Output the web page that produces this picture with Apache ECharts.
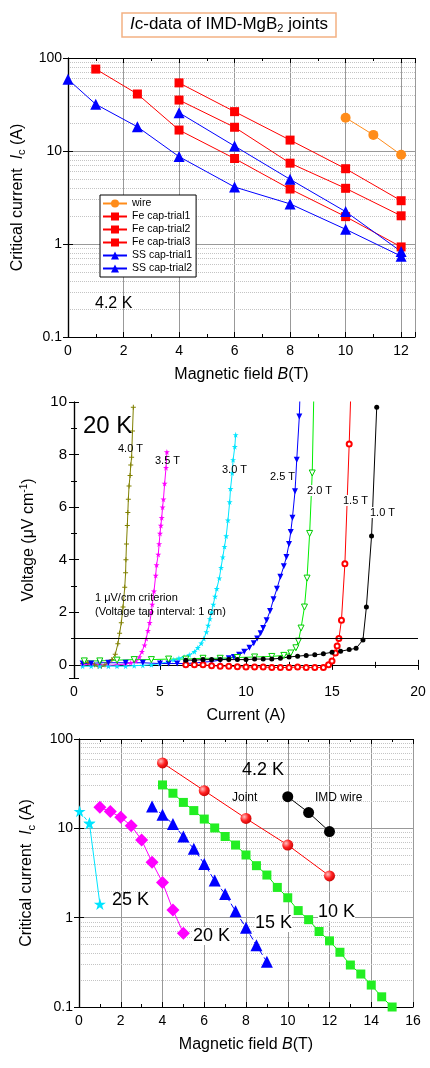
<!DOCTYPE html>
<html>
<head>
<meta charset="utf-8">
<script src="https://cdn.jsdelivr.net/npm/echarts@6/dist/echarts.min.js"></script>
<style>html,body{margin:0;padding:0;background:#fff}#main{width:430px;height:1068px}</style>
</head>
<body>
<div id="main"></div>
<script>
// ---- panel 1 : Ic at 4.2 K ----
var p1Wire = [[10, 22.8], [11, 14.9], [12, 9.1]];
var p1Fe1 = [[4, 54], [6, 26.5], [8, 13.1], [10, 6.45], [12, 2.92]];
var p1Fe2 = [[4, 35.3], [6, 18], [8, 7.4], [10, 3.97], [12, 2.01]];
var p1Fe3 = [[1, 76], [2.5, 41], [4, 16.8], [6, 8.3], [8, 3.9], [10, 1.97], [12, 0.93]];
var p1Ss1 = [[0, 59], [1, 31.8], [2.5, 18.2], [4, 8.7], [6, 4.1], [8, 2.7], [10, 1.44], [12, 0.74]];
var p1Ss2 = [[4, 25.8], [6, 11.3], [8, 4.96], [10, 2.23], [12, 0.83]];
var p1Names = ['wire', 'Fe cap-trial1', 'Fe cap-trial2', 'Fe cap-trial3', 'SS cap-trial1', 'SS cap-trial2'];

// ---- panel 2 : V-I curves at 20 K ----
var vi40 = [[0.5,0.05],[0.8,0.1],[1.0,0.05],[1.2,0.0],[1.4,-0.05],[1.6,-0.05],[1.8,0.0],[2.0,0.1],[2.2,0.2],[2.4,0.4],[2.55,0.8],[2.65,1.2],[2.75,1.6],[2.85,2.2],[2.95,2.95],[3.0,3.5],[3.02,4.0],[3.05,4.6],[3.1,5.3],[3.13,5.8],[3.16,6.3],[3.2,6.8],[3.26,7.2],[3.3,7.6],[3.35,7.9],[3.4,8.9],[3.45,9.8]];
var vi35 = [[0.5,0.0],[1,0.02],[1.5,0.0],[2,-0.02],[2.5,0.0],[3,0.03],[3.3,0.08],[3.6,0.15],[3.8,0.3],[3.95,0.5],[4.1,0.75],[4.2,1.0],[4.3,1.3],[4.4,1.6],[4.5,2.0],[4.55,2.3],[4.65,2.8],[4.75,3.4],[4.8,3.8],[4.9,4.2],[4.95,4.6],[5.0,5.0],[5.05,5.3],[5.1,5.6],[5.15,6.0],[5.2,6.3],[5.27,6.9],[5.35,7.5],[5.4,8.1]];
var vi30 = [[0.5,-0.05],[1,-0.05],[1.5,-0.05],[2,-0.05],[2.5,-0.05],[3,-0.05],[3.5,-0.03],[4,-0.02],[4.5,0.0],[5,0.05],[5.5,0.12],[5.8,0.19],[6.1,0.25],[6.4,0.3],[6.7,0.38],[7.0,0.5],[7.2,0.65],[7.4,0.82],[7.55,1.0],[7.7,1.25],[7.8,1.5],[7.9,1.75],[8.0,2.0],[8.1,2.3],[8.2,2.6],[8.3,2.9],[8.45,3.3],[8.55,3.7],[8.65,4.1],[8.75,4.5],[8.85,4.9],[8.95,5.5],[9.05,6.2],[9.1,6.7],[9.2,7.3],[9.25,7.8],[9.35,8.3],[9.4,8.75]];
var vi25 = [[0.5,0.05],[1,0.05],[1.5,0.08],[2,0.08],[3,0.08],[4,0.08],[5,0.05],[5.5,0.05],[6,0.05],[6.5,0.05],[7,0.07],[7.5,0.1],[8,0.13],[8.5,0.18],[9,0.25],[9.3,0.3],[9.6,0.38],[9.9,0.5],[10.2,0.65],[10.45,0.82],[10.65,1.0],[10.85,1.2],[11.0,1.4],[11.2,1.7],[11.4,2.05],[11.6,2.5],[11.8,2.9],[12.0,3.35],[12.2,3.75],[12.35,4.1],[12.5,4.6],[12.6,5.05],[12.7,5.6],[12.85,6.6],[12.95,7.8],[13.1,9.45],[13.15,10.5]];
var vi20 = [[0.6,0.15],[1.5,0.15],[2.5,0.18],[3.5,0.2],[4.5,0.2],[5.5,0.22],[6.5,0.22],[7.5,0.25],[8.5,0.25],[9.5,0.28],[10.5,0.3],[11.5,0.32],[12.2,0.36],[12.6,0.45],[12.9,0.65],[13.05,0.9],[13.2,1.4],[13.4,2.2],[13.55,3.3],[13.7,5.0],[13.85,7.3],[13.95,10.5]];
var vi15 = [[6.5,0.0],[7,0.0],[7.5,0.0],[8,-0.03],[8.5,-0.05],[9,-0.05],[9.5,-0.07],[10,-0.08],[10.5,-0.08],[11,-0.08],[11.5,-0.1],[12,-0.1],[12.5,-0.1],[13,-0.08],[13.5,-0.1],[14,-0.1],[14.5,-0.1],[14.8,0.0],[15.0,0.15],[15.2,0.45],[15.3,0.72],[15.4,1.0],[15.55,1.7],[15.75,3.85],[16.0,8.4],[16.1,10.5]];
var vi10 = [[6.5,0.18],[7,0.18],[7.5,0.2],[8,0.2],[8.5,0.2],[9,0.2],[9.5,0.2],[10,0.2],[10.5,0.22],[11,0.22],[11.5,0.22],[12,0.25],[12.5,0.3],[13,0.33],[13.5,0.36],[14,0.38],[14.5,0.42],[15,0.48],[15.5,0.52],[16,0.58],[16.4,0.63],[16.8,0.95],[17.0,2.2],[17.3,4.9],[17.6,9.8]];
var criterion = 1;

// ---- panel 3 : Ic vs B at several temperatures ----
var p3Joint42 = [[4, 54], [6, 26.4], [8, 12.9], [10, 6.5], [12, 2.93]];
var p3Wire42 = [[10, 22.6], [11, 15], [12, 9.2]];
var p3T10 = [[4,30.6],[4.5,24.7],[5,19.5],[5.5,15.8],[6,12.7],[6.5,10.1],[7,8.1],[7.5,6.5],[8,5.03],[8.5,3.82],[9,3.0],[9.5,2.18],[10,1.67],[10.5,1.2],[11,0.95],[11.5,0.70],[12,0.55],[12.5,0.41],[13,0.295],[13.5,0.234],[14,0.176],[14.5,0.13],[15,0.1]];
var p3T15 = [[3.5,17.5],[4,14.2],[4.5,11.2],[5,8.1],[5.5,5.9],[6,4.0],[6.5,2.6],[7,1.84],[7.5,1.18],[8,0.77],[8.5,0.49],[9,0.32]];
var p3T20 = [[1,17.2],[1.5,15.4],[2,13.3],[2.5,10.7],[3,7.4],[3.5,4.16],[4,2.48],[4.5,1.22],[5,0.67]];
var p3T25a = [[0.03, 15.5], [0.5, 11.4]];
var p3T25b = [[0.5, 11.4], [1, 1.42]];

var logMinor = [0.2,0.3,0.4,0.5,0.6,0.7,0.8,0.9,2,3,4,5,6,7,8,9,20,30,40,50,60,70,80,90];

var FONT = 'Arial, "Liberation Sans", sans-serif';
var STAR = 'path://M50,0 L61,35 L98,35 L68,57 L79,91 L50,70 L21,91 L32,57 L2,35 L39,35 Z';
var PLUS = 'path://M40,0 H60 V40 H100 V60 H60 V100 H40 V60 H0 V40 H40 Z';

var rich = {
  n: {fontSize: 16, fontFamily: FONT, color: '#000', fontWeight: 'normal'},
  i: {fontSize: 16, fontFamily: FONT, fontStyle: 'italic', color: '#000', fontWeight: 'normal'},
  sub: {fontSize: 11, fontFamily: FONT, color: '#000', fontWeight: 'normal', padding: [9, 0, 0, 0]},
  sup: {fontSize: 10, fontFamily: FONT, color: '#000', fontWeight: 'normal', padding: [0, 0, 9, 0]}
};
var axLine = {lineStyle: {color: '#000', width: 1.2}};
var lbl = {color: '#000', fontSize: 14, fontFamily: FONT};

function mainX(g, min, max, itv, name, gap, grid) {
  return {
    gridIndex: g, type: 'value', min: min, max: max, interval: itv,
    name: name, nameLocation: 'middle', nameGap: gap, nameTextStyle: {rich: rich},
    axisLine: axLine, axisTick: {inside: true, length: 5, lineStyle: {color: '#000'}},
    minorTick: {show: true, splitNumber: 2, length: 3, lineStyle: {color: '#000'}},
    axisLabel: Object.assign({showMaxLabel: max % itv === 0, margin: 7}, lbl),
    splitLine: {show: grid, lineStyle: {color: '#999', width: 1}}
  };
}
function topX(g, min, max, itv) {
  return {
    gridIndex: g, type: 'value', position: 'top', min: min, max: max, interval: itv,
    axisLine: axLine, axisTick: {inside: true, length: 5, lineStyle: {color: '#000'}},
    minorTick: {show: true, splitNumber: 2, length: 3, lineStyle: {color: '#000'}},
    axisLabel: {show: false}, splitLine: {show: false}
  };
}
function logY(g, right, name, gap) {
  return {
    gridIndex: g, type: 'log', logBase: 10, min: 0.1, max: 100, position: right ? 'right' : 'left',
    name: right ? '' : name, nameLocation: 'middle', nameGap: gap, nameTextStyle: {rich: rich},
    axisLine: axLine, axisTick: {inside: true, length: 5, lineStyle: {color: '#000'}},
    axisLabel: Object.assign({show: !right, margin: 6}, lbl),
    splitLine: {show: !right, lineStyle: {color: '#999', width: 1.2}}
  };
}
// empty series that only carries the dotted minor grid lines of a log panel, kept below the data
function minorGrid(xi) {
  return {
    name: 'minor' + xi, type: 'line', xAxisIndex: xi, yAxisIndex: xi, data: [], z: 0,
    silent: true,
    markLine: {
      silent: true, symbol: 'none', label: {show: false}, z: 0,
      lineStyle: {color: '#c4c4c4', type: 'dotted', width: 1},
      emphasis: {disabled: true},
      data: logMinor.map(function (v) { return {yAxis: v}; })
    }
  };
}
function line(name, data, xi, color, symbol, size, extra) {
  return Object.assign({
    name: name, type: 'line', xAxisIndex: xi, yAxisIndex: xi, data: data, z: 3,
    symbol: symbol, symbolSize: size, showSymbol: true,
    lineStyle: {color: color, width: 1}, itemStyle: {color: color}
  }, extra || {});
}
function openMark(color) {
  return {itemStyle: {color: '#fff', borderColor: color, borderWidth: 1}};
}

var series = [
  minorGrid(0),
  line('wire', p1Wire, 0, '#ff8c1a', 'circle', 10),
  line('Fe cap-trial1', p1Fe1, 0, '#ff0000', 'rect', 9),
  line('Fe cap-trial2', p1Fe2, 0, '#ff0000', 'rect', 9),
  line('Fe cap-trial3', p1Fe3, 0, '#ff0000', 'rect', 9),
  line('SS cap-trial1', p1Ss1, 0, '#0000ff', 'triangle', 11),
  line('SS cap-trial2', p1Ss2, 0, '#0000ff', 'triangle', 11),

  line('4.0 T', vi40, 2, '#808000', PLUS, 5, {
    markLine: {silent: true, symbol: 'none', label: {show: false},
      lineStyle: {color: '#000', type: 'solid', width: 1},
      data: [{yAxis: criterion}]}
  }),
  line('3.5 T', vi35, 2, '#ff00ff', STAR, 6),
  line('3.0 T', vi30, 2, '#00e5ff', STAR, 6),
  line('2.5 T', vi25, 2, '#0000ff', 'triangle', 6, {symbolRotate: 180}),
  line('2.0 T', vi20, 2, '#00ee00', 'triangle', 6, Object.assign({symbolRotate: 180}, openMark('#00cc00'))),
  line('1.5 T', vi15, 2, '#ff0000', 'emptyCircle', 5),
  line('1.0 T', vi10, 2, '#000000', 'circle', 5),

  minorGrid(4),
  line('4.2 K joint', p3Joint42, 4, '#ff0000', 'circle', 11, {
    itemStyle: {color: {type: 'radial', x: 0.35, y: 0.35, r: 0.75,
      colorStops: [{offset: 0, color: '#ffc0c0'}, {offset: 0.5, color: '#ff2020'}, {offset: 1, color: '#c00000'}]}}
  }),
  line('IMD wire', p3Wire42, 4, '#000000', 'circle', 11),
  line('10 K', p3T10, 4, '#00ee00', 'rect', 9, {itemStyle: {color: '#22ee22'}}),
  line('15 K', p3T15, 4, '#0000ff', 'triangle', 12, {lineStyle: {color: '#0000ff', width: 1, type: [6, 3]}}),
  line('20 K', p3T20, 4, '#ff00ff', 'diamond', 13),
  line('25 K a', p3T25a, 4, '#00e5ff', STAR, 12, {lineStyle: {color: '#00e5ff', width: 1, type: [4, 3]}}),
  line('25 K b', p3T25b, 4, '#00e5ff', STAR, 12)
];

function txt(x, y, s, size, extra) {
  return {type: 'text', left: x, top: y, z: 100,
    style: Object.assign({text: s, fill: '#000', font: size + 'px ' + FONT}, extra || {})};
}

var chart = echarts.init(document.getElementById('main'));
chart.setOption({
  animation: false,
  backgroundColor: '#fff',
  title: {
    text: '{i|I}{n|c-data of IMD-MgB}{sub|2}{n| joints}',
    left: 122, top: 11,
    borderColor: '#f4b183', borderWidth: 1.5, padding: [3, 8, 3, 8],
    textStyle: {fontWeight: 'normal', rich: {
      n: {fontSize: 17, fontFamily: FONT, color: '#000', fontWeight: 'normal'},
      i: {fontSize: 17, fontFamily: FONT, fontStyle: 'italic', color: '#000', fontWeight: 'normal'},
      sub: {fontSize: 11, fontFamily: FONT, color: '#000', fontWeight: 'normal', padding: [9, 0, 0, 0]}
    }}
  },
  legend: {
    data: p1Names, orient: 'vertical', left: 100, top: 195, z: 10,
    itemWidth: 24, itemHeight: 10, itemGap: 2,
    backgroundColor: '#fff', borderColor: '#000', borderWidth: 1, borderRadius: 0,
    padding: [3, 4, 3, 2],
    textStyle: {fontSize: 10.5, fontFamily: FONT, color: '#000'}
  },
  grid: [
    {left: 68, top: 58, width: 347, height: 279},
    {left: 74, top: 402, width: 344, height: 276},
    {left: 79, top: 739, width: 334, height: 268}
  ],
  xAxis: [
    mainX(0, 0, 12.5, 2, '{n|Magnetic field }{i|B}{n|(T)}', 30, true),
    topX(0, 0, 12.5, 2),
    mainX(1, 0, 20, 5, '{n|Current (A)}', 30, false),
    topX(1, 0, 20, 5),
    mainX(2, 0, 16, 2, '{n|Magnetic field }{i|B}{n|(T)}', 30, true),
    topX(2, 0, 16, 2)
  ],
  yAxis: [
    logY(0, false, '{n|Critical current  }{i|I}{sub|c}{n| (A)}', 38),
    logY(0, true),
    {
      gridIndex: 1, type: 'value', min: -0.5, max: 10, splitNumber: 5,
      name: '{n|Voltage (μV cm}{sup|-1}{n|)}', nameLocation: 'middle', nameGap: 36,
      nameTextStyle: {rich: rich},
      axisLine: axLine, axisTick: {inside: true, length: 5, lineStyle: {color: '#000'}},
      minorTick: {show: true, splitNumber: 2, length: 3, lineStyle: {color: '#000'}},
      axisLabel: Object.assign({showMinLabel: false, margin: 7}, lbl, {fontSize: 15}),
      splitLine: {show: false}
    },
    {
      gridIndex: 1, type: 'value', min: -0.5, max: 10, splitNumber: 5, position: 'right',
      axisLine: axLine, axisTick: {inside: true, length: 5, lineStyle: {color: '#000'}},
      minorTick: {show: true, splitNumber: 2, length: 3, lineStyle: {color: '#000'}},
      axisLabel: {show: false}, splitLine: {show: false}
    },
    logY(2, false, '{n|Critical current  }{i|I}{sub|c}{n| (A)}', 42),
    logY(2, true)
  ],
  series: series,
  graphic: [
    txt(95, 296, '4.2 K', 16),
    txt(83, 414, '20 K', 24),
    txt(118, 443, '4.0 T', 11),
    txt(155, 455, '3.5 T', 11),
    txt(222, 464, '3.0 T', 11),
    txt(270, 471, '2.5 T', 11, {backgroundColor: '#fff'}),
    txt(307, 485, '2.0 T', 11, {backgroundColor: '#fff'}),
    txt(343, 495, '1.5 T', 11, {backgroundColor: '#fff'}),
    txt(370, 507, '1.0 T', 11, {backgroundColor: '#fff'}),
    txt(95, 592, '1 μV/cm criterion', 11),
    txt(95, 606, '(Voltage tap interval: 1 cm)', 11),
    txt(242, 761, '4.2 K', 18),
    txt(232, 792, 'Joint', 12),
    txt(315, 792, 'IMD wire', 12),
    txt(112, 891, '25 K', 18),
    txt(255, 914, '15 K', 18, {backgroundColor: '#fff'}),
    txt(318, 903, '10 K', 18, {backgroundColor: '#fff'}),
    txt(193, 927, '20 K', 18, {backgroundColor: '#fff'})
  ]
});
</script>
</body>
</html>
